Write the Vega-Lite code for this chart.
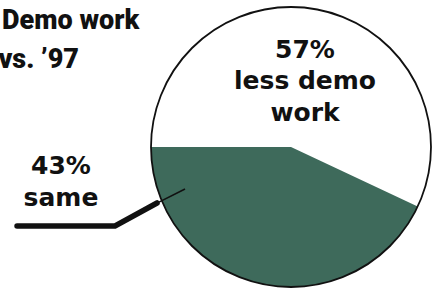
{
  "$schema": "https://vega.github.io/schema/vega-lite/v6.json",
  "width": 439,
  "height": 292,
  "autosize": {"type": "none"},
  "padding": 0,
  "background": "white",
  "config": {"view": {"stroke": null}},
  "layer": [
    {
      "data": {"values": [
        {"category": "less demo work", "value": 57, "rank": 1},
        {"category": "same", "value": 43, "rank": 2}
      ]},
      "mark": {"type": "arc", "outerRadius": 140},
      "encoding": {
        "theta": {"field": "value", "type": "quantitative", "stack": true, "scale": {"range": [4.712389, 10.995574]}},
        "order": {"field": "rank"},
        "color": {"field": "category", "type": "nominal", "scale": {"domain": ["less demo work", "same"], "range": ["#ffffff", "#3e6a5b"]}, "legend": null},
        "x": {"datum": 0, "type": "quantitative", "scale": {"domain": [-2.0786, 1.0571], "nice": false, "zero": false}, "axis": null},
        "y": {"datum": 0, "type": "quantitative", "scale": {"domain": [-1.0357, 1.05], "nice": false, "zero": false}, "axis": null}
      }
    },
    {
      "data": {"values": [{"k": 1}]},
      "mark": {"type": "point", "shape": "circle", "size": 78400, "filled": false, "stroke": "#111111", "strokeWidth": 1.8, "opacity": 1},
      "encoding": {
        "x": {"datum": 0, "type": "quantitative", "scale": {"domain": [-2.0786, 1.0571], "nice": false, "zero": false}, "axis": null},
        "y": {"datum": 0, "type": "quantitative", "scale": {"domain": [-1.0357, 1.05], "nice": false, "zero": false}, "axis": null}
      }
    },
    {
      "data": {"values": [
        {"u": -1.957, "v": -0.564, "seq": 1},
        {"u": -1.257, "v": -0.564, "seq": 2},
        {"u": -0.957, "v": -0.4, "seq": 3}
      ]},
      "mark": {"type": "line", "color": "#111111", "strokeWidth": 5.5, "strokeCap": "round", "strokeJoin": "miter"},
      "encoding": {
        "x": {"field": "u", "type": "quantitative", "scale": {"domain": [-2.0786, 1.0571], "nice": false, "zero": false}, "axis": null},
        "y": {"field": "v", "type": "quantitative", "scale": {"domain": [-1.0357, 1.05], "nice": false, "zero": false}, "axis": null},
        "order": {"field": "seq"}
      }
    },
    {
      "data": {"values": [
        {"u": -0.975, "v": -0.41, "seq": 1},
        {"u": -0.757, "v": -0.3, "seq": 2}
      ]},
      "mark": {"type": "line", "color": "#111111", "strokeWidth": 1.6},
      "encoding": {
        "x": {"field": "u", "type": "quantitative", "scale": {"domain": [-2.0786, 1.0571], "nice": false, "zero": false}, "axis": null},
        "y": {"field": "v", "type": "quantitative", "scale": {"domain": [-1.0357, 1.05], "nice": false, "zero": false}, "axis": null},
        "order": {"field": "seq"}
      }
    },
    {
      "data": {"values": [
        {"label": "57%\nless demo\nwork", "u": 0.1, "v": 0.636},
        {"label": "43%\nsame", "u": -1.643, "v": -0.193}
      ]},
      "mark": {"type": "text", "font": "DejaVu Sans", "fontWeight": "bold", "fontSize": 25, "lineBreak": "\n", "lineHeight": 31.5, "align": "center", "baseline": "alphabetic", "color": "#111111"},
      "encoding": {
        "x": {"field": "u", "type": "quantitative", "scale": {"domain": [-2.0786, 1.0571], "nice": false, "zero": false}, "axis": null},
        "y": {"field": "v", "type": "quantitative", "scale": {"domain": [-1.0357, 1.05], "nice": false, "zero": false}, "axis": null},
        "text": {"field": "label"}
      }
    },
    {
      "data": {"values": [
        {"label": "Demo work", "u": -2.064, "v": 0.843},
        {"label": "vs. \u201997", "u": -2.09, "v": 0.564}
      ]},
      "mark": {"type": "text", "font": "Roboto", "fontWeight": 900, "fontSize": 27, "align": "left", "baseline": "alphabetic", "color": "#111111"},
      "encoding": {
        "x": {"field": "u", "type": "quantitative", "scale": {"domain": [-2.0786, 1.0571], "nice": false, "zero": false}, "axis": null},
        "y": {"field": "v", "type": "quantitative", "scale": {"domain": [-1.0357, 1.05], "nice": false, "zero": false}, "axis": null},
        "text": {"field": "label"}
      }
    }
  ]
}
